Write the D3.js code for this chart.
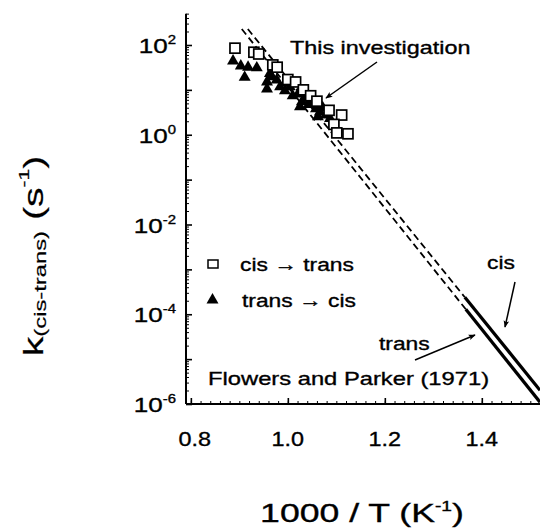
<!DOCTYPE html>
<html><head><meta charset="utf-8">
<script src="https://cdn.jsdelivr.net/npm/d3@7"></script>
<style>body{margin:0;background:#fff}svg{display:block}</style>
</head><body>
<svg id="c" width="540" height="529"></svg>
<script>
// cis -> trans (open squares): 1000/T and k (s^-1)
const cisTransX = [0.891,0.930,0.940,0.969,0.978,1.000,1.016,1.032,1.047,1.060,1.085,1.111,1.095,1.101,1.124];
const cisTransK = [85,69,63,36,32,17,15,10,7.4,5.6,3.5,2.75,1.7,1.1,1.05];
// trans -> cis (filled triangles)
const transCisX = [0.887,0.903,0.918,0.911,0.936,0.957,0.963,0.957,0.967,0.977,0.984,0.994,0.998,1.004,1.010,1.021,1.025,1.029,1.035,1.043,1.052,1.058,1.062,1.066,1.072,1.078,1.087];
const transCisK = [44,34,32,19,31,15,23,10.5,19.5,16.6,11.7,9.5,14.5,11.7,7.4,8.1,4.2,5.4,6.6,4.7,5.1,3.8,2.5,3.2,4.0,2.75,2.3];
// Flowers and Parker (1971) lines: [dashed start, solid start, end]
const fpCisX = [0.9175,1.365,1.52];
const fpCisK = [227,2.39e-4,2.03e-6];
const fpTransX = [0.905,1.367,1.52];
const fpTransK = [227,1.29e-4,1.10e-6];
// ticks
const xTicks = [0.8,1.0,1.2,1.4];
const xTickLabels = ["0.8","1.0","1.2","1.4"];
const yExps = [2,0,-2,-4,-6];

(function(){
const svg = d3.select("#c");
const FONT = "'Liberation Sans', Arial, Helvetica, sans-serif";
const x = d3.scaleLinear().domain([0.79,1.52]).range([186,540]);
const dec = (404-45)/8;
const y = d3.scaleLog().domain([1e-6, 5e2]).range([404, 45 - Math.log10(5)*dec]);
const pL = 186, pB = 404, pT = y.range()[1], pR = 540;

const defs = svg.append("defs");
defs.append("clipPath").attr("id","clip")
  .append("rect").attr("x",pL).attr("y",pT).attr("width",pR-pL).attr("height",pB-pT);
const m = defs.append("marker").attr("id","ah").attr("viewBox","0 0 10 10")
  .attr("refX",9).attr("refY",5).attr("markerWidth",10).attr("markerHeight",7)
  .attr("markerUnits","userSpaceOnUse").attr("orient","auto");
m.append("path").attr("d","M0,1 L10,5 L0,9 L2,5 Z").attr("fill","#000");

function txt(g, px, py, parts, size, anchor, sx){
  const t = g.append("text").attr("transform",`translate(${px},${py}) scale(${sx||1},1)`)
    .attr("font-family",FONT).attr("font-size",size).attr("text-anchor",anchor||"start")
    .attr("fill","#000").attr("stroke","#000").attr("stroke-width",0.35);
  parts.forEach(p=>{
    const ts = t.append("tspan").text(p.t);
    if(p.fs) ts.attr("font-size",p.fs);
    if(p.dy) ts.attr("dy",p.dy);
  });
  return t;
}

// y axis
const yMinor = [];
for(let e=-6;e<=2;e++) for(let k=2;k<=9;k++){ const v=k*Math.pow(10,e); if(v<=5e2) yMinor.push(v); }
const yMajor = d3.range(-6,3).map(e=>Math.pow(10,e));
const gy = svg.append("g").attr("transform",`translate(${pL},0)`);
gy.call(d3.axisLeft(y).tickValues(yMajor).tickSize(-6).tickFormat(""));
gy.selectAll(".tick line").attr("stroke-width",1.6);
gy.select(".domain").attr("stroke-width",2).attr("d",`M0,${pT}V${pB}`);
const gy2 = svg.append("g").attr("transform",`translate(${pL},0)`);
gy2.call(d3.axisLeft(y).tickValues(yMinor).tickSize(-3).tickFormat(""));
gy2.select(".domain").remove();
yExps.forEach(e=>{
  txt(svg, 176, y(Math.pow(10,e))+8, [{t:"10"},{t:String(e),fs:12,dy:-9}], 21, "end", 1.24);
});

// x axis
const xMinor = d3.range(0.8,1.521,0.02).map(v=>+v.toFixed(2));
const gx = svg.append("g").attr("transform",`translate(0,${pB})`);
gx.call(d3.axisBottom(x).tickValues(xMinor).tickSize(-3).tickFormat(""));
gx.select(".domain").attr("stroke-width",2).attr("d",`M${pL},0H${pR}`);
const gx2 = svg.append("g").attr("transform",`translate(0,${pB})`);
gx2.call(d3.axisBottom(x).tickValues(xTicks).tickSize(-6).tickFormat(""));
gx2.select(".domain").remove();
gx2.selectAll(".tick line").attr("stroke-width",1.6);
xTicks.forEach((v,i)=>{ txt(svg, x(v)+(i===0?4:0), 446, [{t:xTickLabels[i]}], 20, "middle", 1.17); });

// Flowers & Parker lines
const plot = svg.append("g").attr("clip-path","url(#clip)");
const line = d3.line().x(d=>x(d[0])).y(d=>y(d[1]));
[[fpCisX,fpCisK],[fpTransX,fpTransK]].forEach(([xs,ks])=>{
  plot.append("path").attr("d",line([[xs[0],ks[0]],[xs[1],ks[1]]]))
    .attr("fill","none").attr("stroke","#000").attr("stroke-width",1.8).attr("stroke-dasharray","7,4");
  plot.append("path").attr("d",line([[xs[1],ks[1]],[xs[2],ks[2]]]))
    .attr("fill","none").attr("stroke","#000").attr("stroke-width",3.2);
});

// data points
const tri = d3.symbol().type(d3.symbolTriangle).size(62);
transCisX.forEach((v,i)=>{
  plot.append("path").attr("d",tri()).attr("transform",`translate(${x(v)},${y(transCisK[i])})`).attr("fill","#000");
});
cisTransX.forEach((v,i)=>{
  plot.append("rect").attr("x",x(v)-5).attr("y",y(cisTransK[i])-5).attr("width",10).attr("height",10)
    .attr("fill","#fff").attr("stroke","#000").attr("stroke-width",1.7);
});

// legend
svg.append("rect").attr("x",208).attr("y",260).attr("width",10).attr("height",8).attr("fill","#fff").attr("stroke","#000").attr("stroke-width",1.5);
svg.append("path").attr("d",tri()).attr("transform","translate(212.5,300)").attr("fill","#000");
txt(svg, 240, 271, [{t:"cis → trans"}], 19, "start", 1.2);
txt(svg, 242, 307, [{t:"trans → cis"}], 19, "start", 1.2);

// annotations
txt(svg, 290, 54, [{t:"This investigation"}], 19, "start", 1.23);
svg.append("line").attr("x1",377).attr("y1",62).attr("x2",326).attr("y2",98).attr("stroke","#000").attr("stroke-width",1.5).attr("marker-end","url(#ah)");
txt(svg, 487, 269, [{t:"cis"}], 19, "start", 1.2);
svg.append("line").attr("x1",515).attr("y1",282).attr("x2",505).attr("y2",327).attr("stroke","#000").attr("stroke-width",1.5).attr("marker-end","url(#ah)");
txt(svg, 379, 350, [{t:"trans"}], 19, "start", 1.2);
svg.append("line").attr("x1",415).attr("y1",360).attr("x2",475).attr("y2",335).attr("stroke","#000").attr("stroke-width",1.5).attr("marker-end","url(#ah)");
txt(svg, 208, 385, [{t:"Flowers and Parker (1971)"}], 19, "start", 1.25);

// axis titles
txt(svg, 362, 522, [{t:"1000 / T (K"},{t:"-1",fs:14,dy:-11},{t:")",dy:11}], 26, "middle", 1.37);
const yt = svg.append("text").attr("transform","translate(43,256) rotate(-90) scale(1.4,1)")
  .attr("font-family",FONT).attr("font-size",28).attr("text-anchor","middle")
  .attr("stroke","#000").attr("stroke-width",0.2);
yt.append("tspan").text("k");
yt.append("tspan").text("(cis-trans)").attr("font-size",17).attr("dy",3);
yt.append("tspan").text(" (s").attr("dy",-3);
yt.append("tspan").text("-1").attr("font-size",15).attr("dy",-14);
yt.append("tspan").text(")").attr("dy",14);
})();
</script>
</body></html>
